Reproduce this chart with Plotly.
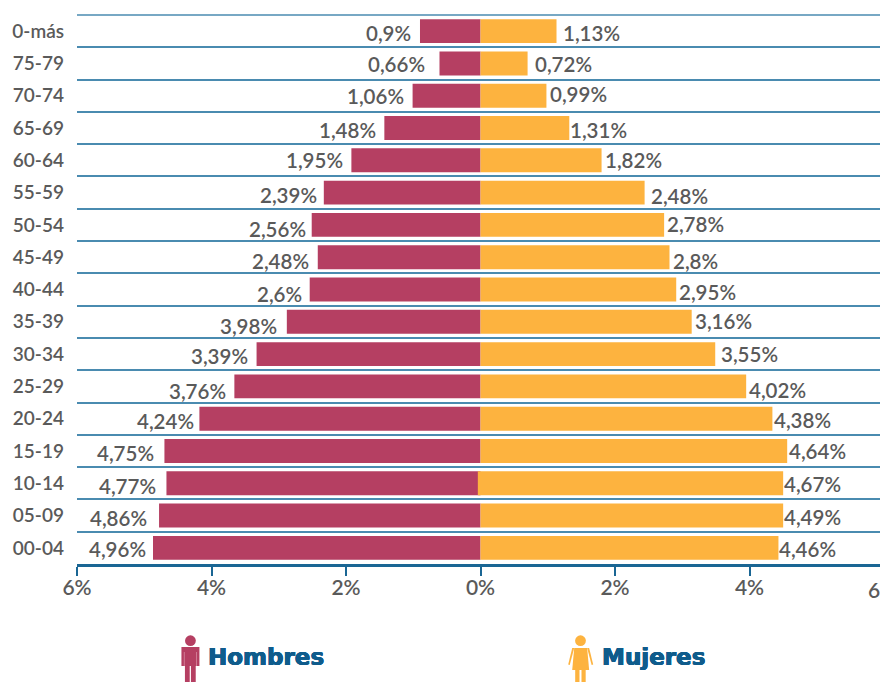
import plotly.graph_objects as go

ages = ["0-más", "75-79", "70-74", "65-69", "60-64", "55-59", "50-54", "45-49", "40-44",
        "35-39", "30-34", "25-29", "20-24", "15-19", "10-14", "05-09", "00-04"]
# Bar lengths as drawn in the picture (they differ slightly from the printed labels)
hombres = [0.90, 0.61, 1.01, 1.43, 1.92, 2.33, 2.51, 2.42, 2.54, 2.88, 3.33, 3.66, 4.18, 4.70, 4.67, 4.78, 4.87]
mujeres = [1.13, 0.70, 0.98, 1.32, 1.80, 2.44, 2.73, 2.81, 2.91, 3.14, 3.49, 3.95, 4.34, 4.56, 4.54, 4.50, 4.43]
mujeres_base = [0, 0, 0, 0, 0, 0, 0, 0, 0, 0, 0, 0, 0, 0, -0.04, 0, 0]
etiq_h = ["0,9%", "0,66%", "1,06%", "1,48%", "1,95%", "2,39%", "2,56%", "2,48%", "2,6%",
          "3,98%", "3,39%", "3,76%", "4,24%", "4,75%", "4,77%", "4,86%", "4,96%"]
etiq_m = ["1,13%", "0,72%", "0,99%", "1,31%", "1,82%", "2,48%", "2,78%", "2,8%", "2,95%",
          "3,16%", "3,55%", "4,02%", "4,38%", "4,64%", "4,67%", "4,49%", "4,46%"]
# label placement quirks of the original
gap_h = [7, 12, 7, 6, 6, 5, 4, 7, 6, 8, 7, 6, 3, 8, 8, 10, 5]
gap_m = [4, 5, 2, -1, 1, 4, 1, 1, 1, 1, 4, 1, 0, 0, -1, -1, -1]
dy_h = [2, 1, 0, 2, 0, 2.5, 4, 4, 4.6, 4, 2, 4.7, 2.4, 2, 3, 2.5, 1]
dy_m = [2, 1, -1.6, 2, 0, 3.5, -1, 4, 2.6, -1, 0, 3.7, 1.4, 0, 1, 1.5, 1]
x_ticks = [-6, -4, -2, 0, 2, 4]
x_tick_text = ["6%", "4%", "2%", "0%", "2%", "4%"]

ROJO = "#b53f62"
ROJO_CLARO = "#d78aa1"
NARANJA = "#fdb33f"
AZUL = "#1a6694"
REJILLA = "#4a8bb0"
GRIS = "#5a5a5a"
TITULO = "#0f5c8c"
FONT = "Lato"

L, R, T, B = 76.5, 880, 15, 564
def px(x): return (x - L) / (R - L)
def py(y): return (B - y) / (B - T)

fig = go.Figure()
fig.add_bar(y=ages, x=[-v for v in hombres], orientation="h", marker=dict(color=ROJO, line_width=0), name="Hombres")
fig.add_bar(y=ages, x=mujeres, base=mujeres_base, orientation="h", marker=dict(color=NARANJA, line_width=0), name="Mujeres")

lab = dict(family=FONT, size=20.5, color=GRIS, weight=600)
ann = []
for i, a in enumerate(ages):
    ann.append(dict(x=-hombres[i], y=a, xref="x", yref="y", text=etiq_h[i], showarrow=False, xanchor="right",
                    xshift=-gap_h[i], yshift=-dy_h[i], font=lab))
    ann.append(dict(x=mujeres[i] + mujeres_base[i], y=a, xref="x", yref="y", text=etiq_m[i], showarrow=False, xanchor="left",
                    xshift=gap_m[i], yshift=-dy_m[i], font=lab))
ann.append(dict(x=px(866), y=py(589), xref="paper", yref="paper", text="6", showarrow=False, xanchor="left", yanchor="middle",
                font=dict(family=FONT, size=21, color=GRIS, weight=600)))
for label, xp in [("Hombres", 206), ("Mujeres", 600)]:
    ann.append(dict(x=px(xp), y=py(657), xref="paper", yref="paper", text=label, showarrow=False,
                    xanchor="left", yanchor="middle",
                    font=dict(family="DejaVu Sans", size=23, color=TITULO, weight=700,
                              shadow="0.5px 0 %s, -0.5px 0 %s, 0 0.4px %s, 0 -0.4px %s" % (TITULO, TITULO, TITULO, TITULO))))

def rect(x0, y0, x1, y1, c):
    return dict(type="rect", xref="paper", yref="paper", x0=px(x0), x1=px(x1), y0=py(y0), y1=py(y1),
                fillcolor=c, line_width=0, layer="above")
def oval(cx, cy, rx, ry, c):
    return dict(type="circle", xref="paper", yref="paper", x0=px(cx - rx), x1=px(cx + rx), y0=py(cy - ry), y1=py(cy + ry),
                fillcolor=c, line_width=0, layer="above")
def poly(pts, c):
    d = "M" + " L".join("%.4f,%.4f" % (px(a), py(b)) for a, b in pts) + " Z"
    return dict(type="path", xref="paper", yref="paper", path=d, fillcolor=c, line_width=0, layer="above")

shapes = [
    dict(type="line", xref="paper", yref="paper", x0=0, x1=1, y0=1, y1=1, line=dict(color=REJILLA, width=1.5)),
    oval(190, 640.7, 5.4, 5.4, ROJO),
    rect(181, 647, 199, 666, ROJO),
    rect(183.4, 652, 184.2, 666, ROJO_CLARO),
    rect(195.8, 652, 196.6, 666, ROJO_CLARO),
    rect(184.5, 666, 189.3, 682, ROJO),
    rect(190.5, 666, 195.3, 682, ROJO),
    oval(580.3, 640.7, 5.4, 5.4, NARANJA),
    poly([(574, 648), (587, 648), (589, 670), (572, 670)], NARANJA),
    poly([(574, 648), (569.5, 665), (568, 664.5), (572, 648)], NARANJA),
    poly([(587, 648), (591.5, 665), (593, 664.5), (589, 648)], NARANJA),
    rect(575, 670, 579.3, 682, NARANJA),
    rect(581.3, 670, 585.5, 682, NARANJA),
]

fig.update_layout(
    width=880, height=682, margin=dict(l=L, r=0, t=T, b=682 - B), autosize=False,
    paper_bgcolor="white", plot_bgcolor="white", barmode="overlay", bargap=0.26, showlegend=False,
    annotations=ann, shapes=shapes,
    xaxis=dict(range=[-6, 5.94], tickvals=x_ticks, ticktext=x_tick_text, showgrid=False, zeroline=False,
               showline=True, linecolor=AZUL, linewidth=3, ticks="outside", ticklen=9, tickwidth=2, tickcolor=AZUL,
               ticklabelstandoff=-6,
               tickfont=dict(family=FONT, size=21, color=GRIS, weight=600)),
    yaxis=dict(type="category", categoryorder="array", categoryarray=ages[::-1], tickson="boundaries",
               showgrid=True, gridcolor=REJILLA, gridwidth=1.5, zeroline=False, showline=False, ticks="",
               ticklabelstandoff=12,
               tickfont=dict(family=FONT, size=19, color=GRIS, weight=600)),
)
fig.write_html("out.html", config={"displayModeBar": False},
               post_script="document.body.style.margin='0';document.body.style.overflow='hidden';")
